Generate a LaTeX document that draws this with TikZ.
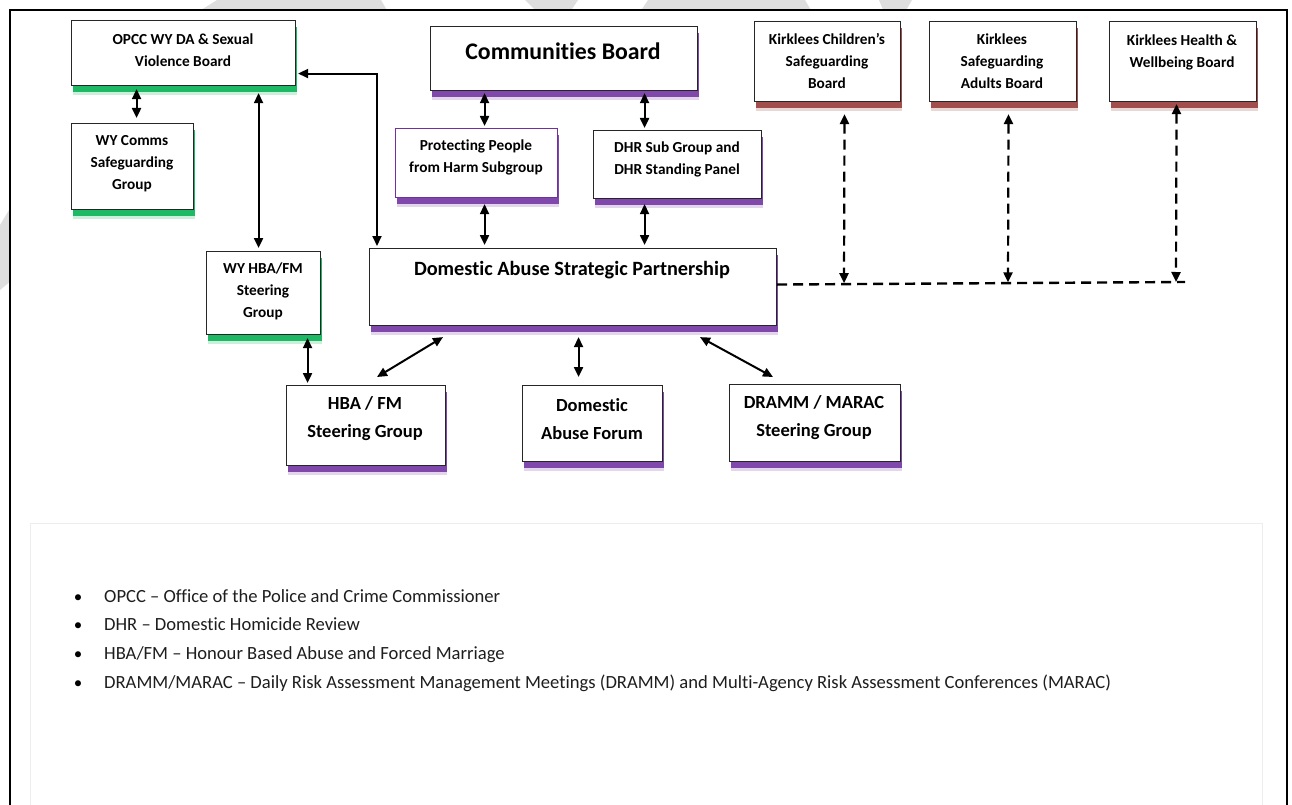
\documentclass[tikz,border=0pt]{standalone}
\usepackage{fontspec}
\setmainfont{Carlito}[Ligatures=NoCommon]
\usetikzlibrary{arrows.meta,shadows,calc}
\definecolor{grn}{HTML}{00B050}
\definecolor{pur}{HTML}{7030A0}
\definecolor{mar}{HTML}{953735}
\definecolor{wmk}{HTML}{DEDEDE}
\definecolor{legtxt}{HTML}{1E1E1E}
\begin{document}
\begin{tikzpicture}[x=1pt,y=-1pt,
  box/.style={draw=black!85, line width=1.1pt, fill=white, inner sep=0pt, rectangle, anchor=north west},
  gsh/.style={drop shadow={shadow xshift=1.5pt,shadow yshift=-9pt,fill=grn,opacity=.2},
              drop shadow={shadow xshift=1pt,shadow yshift=-6pt,fill=grn,opacity=.85}},
  psh/.style={drop shadow={shadow xshift=1.5pt,shadow yshift=-9pt,fill=pur,opacity=.2},
              drop shadow={shadow xshift=1pt,shadow yshift=-6pt,fill=pur,opacity=.85}},
  rsh/.style={drop shadow={shadow xshift=1.5pt,shadow yshift=-9pt,fill=mar,opacity=.2},
              drop shadow={shadow xshift=1pt,shadow yshift=-6pt,fill=mar,opacity=.85}},
  small/.style={font=\bfseries\fontsize{15.3}{22}\selectfont, align=center, inner sep=0pt},
  mid/.style={font=\bfseries\fontsize{18.5}{28}\selectfont, align=center, inner sep=0pt},
  midb/.style={font=\bfseries\fontsize{20.3}{28}\selectfont, align=center, inner sep=0pt},
  big/.style={font=\bfseries\fontsize{23.8}{30}\selectfont, align=center, inner sep=0pt},
  leg/.style={font=\fontsize{18.6}{22}\selectfont, text=legtxt, anchor=base west, inner sep=0pt},
  bul/.style={font=\fontsize{17}{20}\selectfont, text=black, anchor=base, inner sep=0pt},
  dbl/.style={line width=2pt, {Triangle[width=9pt,length=10pt]}-{Triangle[width=9pt,length=10pt]}},
  dsh/.style={line width=2.4pt, dash pattern=on 10pt off 6pt},
  dshdbl/.style={line width=2.2pt, dash pattern=on 10pt off 6pt, {Triangle[width=9pt,length=10pt]}-{Triangle[width=9pt,length=10pt]}}
]
\useasboundingbox (0,0) rectangle (1292,805);
\clip (0,0) rectangle (1292,805);
\fill[white] (0,0) rectangle (1292,805);
% watermark slivers
\fill[wmk] (217,0) -- (381,0) -- (388,12) -- (198,12) -- cycle;
\fill[wmk] (525,0) -- (578,0) -- (570,12) -- (537,12) -- cycle;
\fill[wmk] (648,0) -- (805,0) -- (812,12) -- (640,12) -- cycle;
\fill[wmk] (879,0) -- (912,0) -- (905,12) -- (884,12) -- cycle;
\fill[wmk] (0,225) -- (12,205) -- (12,280) -- (0,290) -- cycle;
% frame
\fill[white] (11,11) rectangle (1286,810);
\draw[line width=2.2pt] (10,815) -- (10,10) -- (1287,10) -- (1287,815);
% legend panel
\draw[black!7, line width=1pt] (30,523) rectangle (1262,812);

% boxes
\node[box, gsh, minimum width=224pt, minimum height=65pt] (opcc) at (71,20) {};
\node[box, gsh, minimum width=122pt, minimum height=86pt] (comms) at (71,123) {};
\node[box, gsh, minimum width=114pt, minimum height=83pt] (wyhba) at (206,251) {};
\node[box, psh, minimum width=267pt, minimum height=64pt] (cb) at (430,26) {};
\node[box, psh, draw=pur, minimum width=162pt, minimum height=69pt] (pp) at (395,128) {};
\node[box, psh, minimum width=168pt, minimum height=68pt] (dhr) at (593,130) {};
\node[box, psh, minimum width=407pt, minimum height=77pt] (dasp) at (369,248) {};
\node[box, psh, minimum width=159pt, minimum height=80pt] (hba) at (286,385) {};
\node[box, psh, minimum width=140pt, minimum height=76pt] (daf) at (522,385) {};
\node[box, psh, minimum width=171pt, minimum height=77pt] (dramm) at (729,384) {};
\node[box, rsh, minimum width=146pt, minimum height=80pt] (kc) at (754,21) {};
\node[box, rsh, minimum width=147pt, minimum height=80pt] (ks) at (929,21) {};
\node[box, rsh, minimum width=147pt, minimum height=80pt] (kh) at (1109,21) {};

% texts
\node[small] (opcct) at (183,50) {OPCC WY DA \& Sexual\\Violence Board};
\node[small] (commst) at (132,164) {WY Comms\\Safeguarding\\Group};
\node[small] (wyhbat) at (263,291) {WY HBA/FM\\Steering\\Group};
\node[big] (cbt) at (563,51) {Communities Board};
\node[small] (ppt) at (476,157) {Protecting People\\from Harm Subgroup};
\node[small] (dhrt) at (677,159) {DHR Sub Group and\\DHR Standing Panel};
\node[midb] (daspt) at (572,270) {Domestic Abuse Strategic Partnership};
\node[mid] (hbat) at (365,419) {HBA / FM\\Steering Group};
\node[mid] (daft) at (592,419) {Domestic\\Abuse Forum};
\node[mid] (drammt) at (814,418) {DRAMM / MARAC\\Steering Group};
\node[small] (kct) at (827,61) {Kirklees Children’s\\Safeguarding\\Board};
\node[small] (kst) at (1002,61) {Kirklees\\Safeguarding\\Adults Board};
\node[small] (kht) at (1182,52) {Kirklees Health \&\\Wellbeing Board};

% solid connectors
\draw[dbl, shorten <=3pt, shorten >=5pt] ([xshift=-47pt]opcc.south) -- ([xshift=4pt]comms.north);
\draw[dbl, shorten <=7pt, shorten >=3pt] ([xshift=75pt]opcc.south) -- ([xshift=-5pt]wyhba.north);
\draw[dbl, shorten <=2pt, shorten >=2pt] ([yshift=-20.5pt]opcc.east) -| ([xshift=8pt]dasp.north west);
\draw[dbl, shorten <=2pt, shorten >=2pt] ([xshift=-79.5pt]cb.south) -- ([xshift=8pt]pp.north);
\draw[dbl, shorten <=2pt, shorten >=2pt] ([xshift=80.5pt]cb.south) -- ([xshift=-33pt]dhr.north);
\draw[dbl, shorten <=6pt, shorten >=3pt] ([xshift=8pt]pp.south) -- ([xshift=-88.5pt]dasp.north);
\draw[dbl, shorten <=5pt, shorten >=3pt] ([xshift=-33pt]dhr.south) -- ([xshift=71.5pt]dasp.north);
\draw[dbl, shorten <=3pt, shorten >=2pt] ([xshift=44pt]wyhba.south) -- ([xshift=-58.5pt]hba.north);
\draw[dbl] ([xshift=74pt,yshift=-11pt]dasp.south west) -- ([xshift=91pt,yshift=8pt]hba.north west);
\draw[dbl, shorten <=11pt, shorten >=8pt] ([xshift=5.5pt]dasp.south) -- ([xshift=-14pt]daf.north);
\draw[dbl] ([xshift=331pt,yshift=-11pt]dasp.south west) -- ([xshift=44pt,yshift=7pt]dramm.north west);

% dashed connectors
\coordinate (dend) at (1185,282);
\coordinate (d1) at (844,283.2);
\coordinate (d2) at (1008,282.4);
\coordinate (d3) at (1176,282);
\draw[dsh] ([yshift=2.5pt]dasp.east) -- (dend);
\draw[dshdbl, shorten <=12pt] ([xshift=17pt]kc.south) -- (d1);
\draw[dshdbl, shorten <=12pt] ([xshift=5.5pt]ks.south) -- (d2);
\draw[dshdbl, shorten <=2pt] ([xshift=-6.5pt]kh.south) -- (d3);

% legend
\node[bul] (b1) at (78,602) {•};
\node[bul] (b2) at (78,630) {•};
\node[bul] (b3) at (78,659) {•};
\node[bul] (b4) at (78,688) {•};
\node[leg] (l1) at (104,602) {OPCC – Office of the Police and Crime Commissioner};
\node[leg] (l2) at (104,630) {DHR – Domestic Homicide Review};
\node[leg] (l3) at (104,659) {HBA/FM – Honour Based Abuse and Forced Marriage};
\node[leg] (l4) at (104,688) {DRAMM/MARAC – Daily Risk Assessment Management Meetings (DRAMM) and Multi-Agency Risk Assessment Conferences (MARAC)};
\end{tikzpicture}
\end{document}
